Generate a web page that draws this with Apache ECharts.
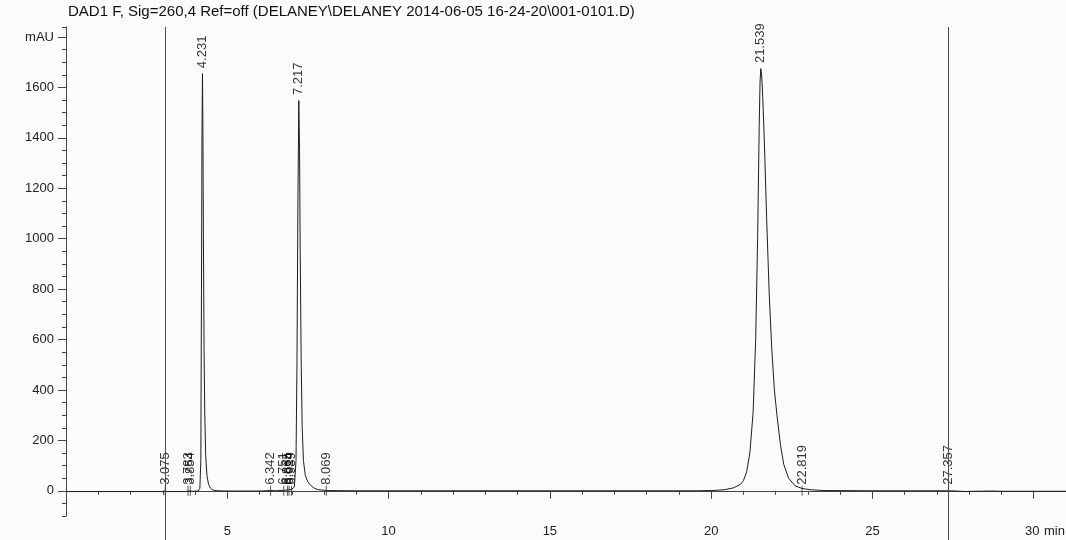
<!DOCTYPE html>
<html>
<head>
<meta charset="utf-8">
<script src="https://cdn.jsdelivr.net/npm/echarts@6/dist/echarts.min.js"></script>
<style>
html,body{margin:0;padding:0;background:#fbfbfb;}
#chart{width:1066px;height:540px;}
</style>
</head>
<body>
<div id="chart"></div>
<script>
// ---- data ----
const chartTitle = 'DAD1 F, Sig=260,4 Ref=off (DELANEY\\DELANEY 2014-06-05 16-24-20\\001-0101.D)';
const xTickValues = [5, 10, 15, 20, 25, 30];
const yTickValues = [0, 200, 400, 600, 800, 1000, 1200, 1400, 1600, 1800];
const yUnit = 'mAU';
const xUnit = 'min';
// signal trace: [retention time (min), absorbance (mAU)]
const traceTime = [0, 1, 2, 3.0, 3.075, 3.15, 3.7, 3.783, 3.854, 3.95, 4.1, 4.15, 4.18, 4.2, 4.215, 4.231, 4.245, 4.26, 4.28, 4.3, 4.33, 4.37, 4.42, 4.48, 4.55, 4.7, 5.0, 6.0, 6.342, 6.5, 6.751, 6.865, 6.914, 6.989, 7.08, 7.13, 7.16, 7.19, 7.217, 7.24, 7.26, 7.29, 7.32, 7.36, 7.42, 7.5, 7.6, 7.7, 7.8, 8.069, 9, 12, 15, 18, 19.5, 20.0, 20.4, 20.7, 20.9, 21.0, 21.1, 21.2, 21.3, 21.38, 21.44, 21.49, 21.515, 21.539, 21.565, 21.6, 21.65, 21.72, 21.8, 21.88, 21.96, 22.04, 22.15, 22.25, 22.4, 22.6, 22.819, 23.1, 23.5, 25, 27, 27.357, 27.6, 27.9, 28.1, 28.7, 29, 30, 31];
const traceValue = [-3, -3, -3, -3, -1, -3, -3, -1, -1, -2, -1, 10, 120, 800, 1400, 1655, 1420, 1000, 560, 320, 140, 60, 25, 10, 3, 0, -1, -1, 1, 0, 2, 3, 4, 6, 15, 120, 500, 1150, 1548, 1350, 950, 520, 260, 120, 60, 35, 20, 10, 5, 1, 0, 0, 0, 0, 0, 1, 4, 12, 25, 40, 75, 150, 310, 600, 1000, 1450, 1620, 1675, 1650, 1560, 1380, 1080, 780, 560, 400, 300, 180, 105, 50, 20, 9, 4, 1, 0, 0, 0, -1, -3, -2, -1, -2, -2, -2];
// peak annotations
const peakTimes  = [3.075, 3.783, 3.854, 4.231, 6.342, 6.751, 6.865, 6.914, 6.989, 7.217, 8.069, 21.539, 22.819, 27.357];
const peakLabels = ['3.075', '3.783', '3.854', '4.231', '6.342', '6.751', '6.865', '6.914', '6.989', '7.217', '8.069', '21.539', '22.819', '27.357'];
const peakApex   = [0, 0, 0, 1655, 0, 0, 0, 0, 0, 1548, 0, 1675, 0, 0];
// full-height event markers
const markerTimes = [3.075, 27.357];

// ---- chart ----
const FONT = "'Liberation Sans', Arial, sans-serif";
const X_MIN = 0, X_MAX = 31, Y_MIN = -100, Y_MAX = 1840;
const traceData = traceTime.map((t, i) => [t, traceValue[i]]);
const labelData = peakTimes.map((t, i) => {
  const big = peakApex[i] > 100;
  return {
    value: [t, peakApex[i]],
    symbol: 'rect',
    symbolSize: big ? [1, 1] : [1, 10],
    itemStyle: { color: big ? 'rgba(0,0,0,0)' : '#333' },
    label: { formatter: peakLabels[i], distance: big ? 5 : 1 }
  };
});
const lastTick = xTickValues[xTickValues.length - 1];

const chart = echarts.init(document.getElementById('chart'), null, { renderer: 'canvas' });
chart.setOption({
  animation: false,
  backgroundColor: '#fbfbfb',
  title: {
    text: chartTitle, left: 68, top: 4, padding: 0,
    textStyle: { fontFamily: FONT, fontSize: 15, fontWeight: 'normal', color: '#111' }
  },
  grid: [
    { left: 66, right: 0, top: 27, bottom: 24, containLabel: false, outerBoundsMode: 'none' },
    { left: 66, right: 0, top: 27, bottom: 0, containLabel: false, outerBoundsMode: 'none' }
  ],
  xAxis: [
    { type: 'value', gridIndex: 0, min: X_MIN, max: X_MAX, interval: 5,
      axisLine: { show: true, lineStyle: { color: '#444', width: 1 } },
      axisTick: { show: true, length: 8, inside: false, customValues: xTickValues, lineStyle: { color: '#444' } },
      axisLabel: { show: true, customValues: xTickValues, margin: 9, fontFamily: FONT, fontSize: 13, color: '#222',
        formatter: v => (v === lastTick ? '{p|}{n|' + v + '}{u|' + xUnit + '}' : String(v)),
        rich: {
          p: { width: 24 },
          n: { fontFamily: FONT, fontSize: 13, color: '#222' },
          u: { fontFamily: FONT, fontSize: 13, color: '#222', width: 24, padding: [0, 0, 0, 3] }
        }
      },
      splitLine: { show: false }
    },
    { type: 'value', gridIndex: 0, min: X_MIN, max: X_MAX, interval: 1, position: 'bottom',
      axisLine: { show: false }, axisTick: { show: true, length: 4, lineStyle: { color: '#444' } },
      axisLabel: { show: false }, splitLine: { show: false }
    },
    { type: 'value', gridIndex: 1, min: X_MIN, max: X_MAX, show: false }
  ],
  yAxis: [
    { type: 'value', gridIndex: 0, min: Y_MIN, max: Y_MAX, interval: 50,
      axisLine: { show: true, lineStyle: { color: '#444', width: 1 } },
      axisTick: { show: true, length: 8, customValues: yTickValues, lineStyle: { color: '#444' } },
      axisLabel: { show: true, customValues: yTickValues, margin: 12, fontFamily: FONT, fontSize: 13, color: '#222',
        formatter: v => (v === 1800 ? yUnit : String(v)) },
      splitLine: { show: false }
    },
    { type: 'value', gridIndex: 0, min: Y_MIN, max: Y_MAX, interval: 50, position: 'left',
      axisLine: { show: false }, axisTick: { show: true, length: 4, lineStyle: { color: '#444' } },
      axisLabel: { show: false }, splitLine: { show: false }
    },
    { type: 'value', gridIndex: 1, min: 0, max: 1, show: false }
  ],
  series: [
    { type: 'line', xAxisIndex: 2, yAxisIndex: 2, data: [[0, 0]], showSymbol: false, symbol: 'none',
      lineStyle: { width: 0 }, silent: true,
      markLine: { silent: true, symbol: ['none', 'none'], label: { show: false },
        lineStyle: { color: '#4a4a4a', width: 1, type: 'solid' },
        data: markerTimes.map(t => ({ xAxis: t })) }
    },
    { type: 'line', xAxisIndex: 0, yAxisIndex: 0, data: traceData, showSymbol: false, symbol: 'none',
      smooth: false, lineStyle: { color: '#1e1e1e', width: 1 }, silent: true },
    { type: 'scatter', xAxisIndex: 0, yAxisIndex: 0, data: labelData, silent: true,
      labelLayout: { hideOverlap: false },
      label: { show: true, position: 'top', rotate: 90, align: 'left', verticalAlign: 'middle',
        fontFamily: FONT, fontSize: 13, color: '#000' } }
  ]
});
</script>
</body>
</html>
